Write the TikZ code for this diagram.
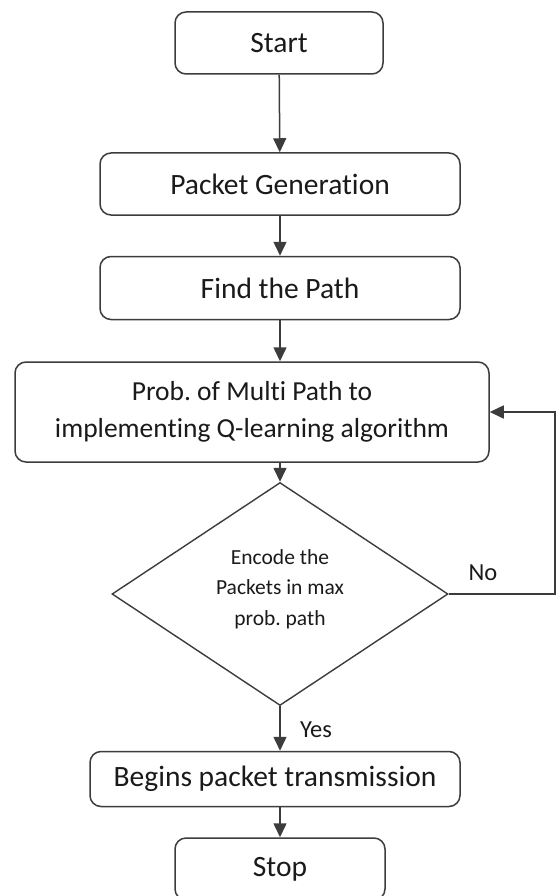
\documentclass[tikz,border=0pt]{standalone}
\usepackage{fontspec}
\setmainfont[Ligatures=NoCommon]{Carlito}
\usetikzlibrary{shapes.geometric,arrows.meta}
\definecolor{linec}{HTML}{3C3C3C}
\definecolor{txtc}{HTML}{1A1A1A}
\frenchspacing
\tikzset{
  box/.style={draw=linec, line width=1.5pt, rounded corners=11pt, fill=white,
    text=txtc, align=center, inner sep=0pt, font=\fontsize{29.5}{37}\selectfont},
  decision/.style={draw=linec, line width=1.4pt, shape=diamond, inner sep=0pt},
  dtext/.style={text=txtc, align=center, inner sep=0pt, font=\fontsize{21.5}{30.5}\selectfont},
  conn/.style={draw=linec, line width=1.5pt, -{Triangle[length=14pt,width=13pt]}},
  lbl/.style={text=txtc, font=\fontsize{24.5}{28}\selectfont, inner sep=0pt}
}
\begin{document}
\begin{tikzpicture}[x=1pt,y=-1pt]
\useasboundingbox (0,0) rectangle (557,896);
\fill[white] (0,0) rectangle (557,896);
\node[box, minimum width=208pt, minimum height=62pt] (start) at (279,43) {Start};
\node[box, minimum width=360pt, minimum height=62pt] (pg) at (280,184) {Packet Generation};
\node[box, minimum width=360pt, minimum height=63pt] (fp) at (280,288) {Find the Path};
\node[box, minimum width=474pt, minimum height=100pt, font=\fontsize{27.5}{37}\selectfont] (prob) at (252,412) {Prob.\ of Multi Path to\\implementing Q-learning algorithm};
\node[decision, minimum width=336pt, minimum height=223pt] (dec) at (280,594) {};
\node[dtext] (dectext) at (280,589) {Encode the\\Packets in max\\prob.\ path};
\node[box, minimum width=370pt, minimum height=55pt] (tx) at (275,779) {Begins packet transmission};
\node[box, minimum width=210pt, minimum height=62pt] (stop) at (280,869) {Stop};
\coordinate (c1) at (555,594);
\coordinate (c2) at (555,412);
\draw[conn] (start) -- (pg);
\draw[conn] (pg) -- (fp);
\draw[conn] (fp.south) -- (fp.south |- prob.north);
\draw[conn] (prob.south -| dec.north) -- (dec.north);
\draw[conn] (dec.south) -- (dec.south |- tx.north);
\draw[conn] (tx.south -| stop.north) -- (stop.north);
\draw[conn] (dec.east) -- (c1) -- (c2) -- (prob.east);
\node[lbl] (no) at (483,573) {No};
\node[lbl] (yes) at (316,730) {Yes};
\end{tikzpicture}
\end{document}
